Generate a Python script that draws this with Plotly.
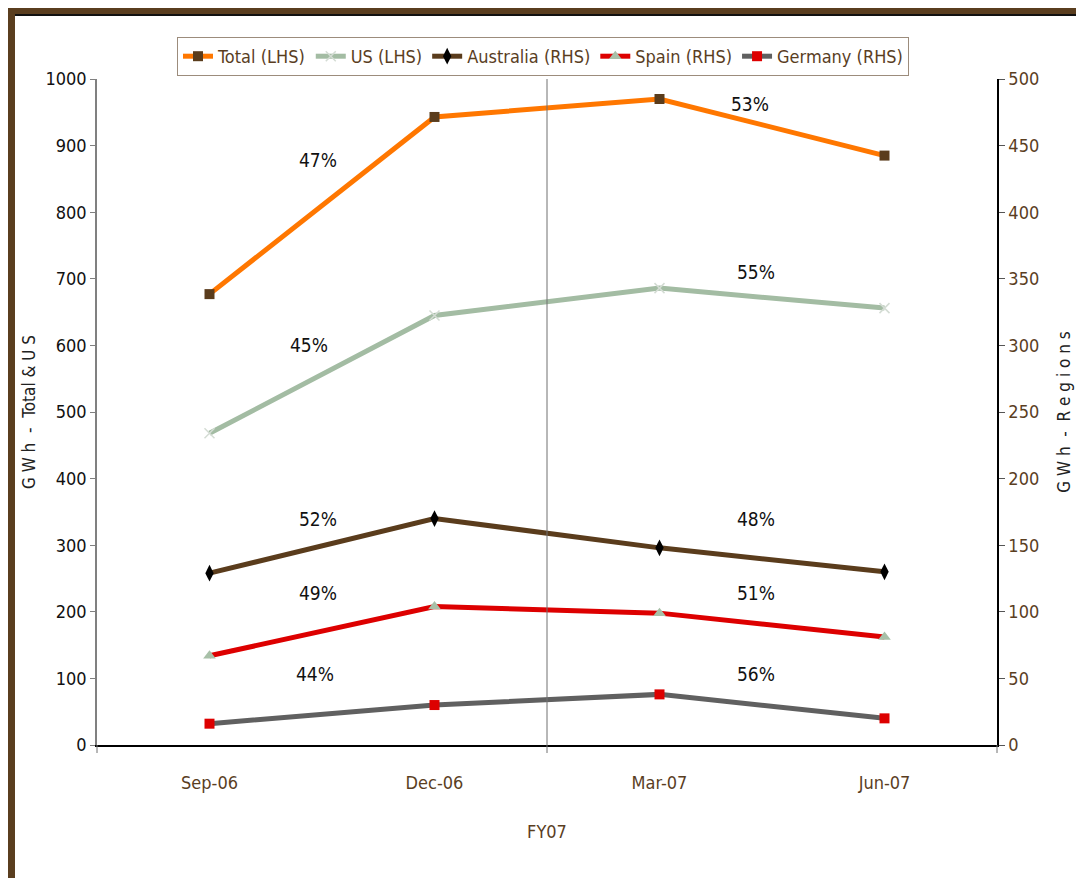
import plotly.graph_objects as go

categories = ["Sep-06", "Dec-06", "Mar-07", "Jun-07"]
total_lhs = [677, 943, 970, 885]
us_lhs = [468, 645, 686, 656]
australia_rhs = [129, 170, 148, 130]
spain_rhs = [67, 104, 99, 81]
germany_rhs = [16, 30, 38, 20]

# percentage annotations: (category position, value, axis, text)
pct_x = [0.48, 2.4, 0.44, 2.43, 0.48, 2.43, 0.48, 2.43, 0.47, 2.43]
pct_y = [878, 962, 600, 710, 170, 170, 114, 114, 53, 53]
pct_ax = ["y", "y", "y", "y", "y2", "y2", "y2", "y2", "y2", "y2"]
pct_text = ["47%", "53%", "45%", "55%", "52%", "48%", "49%", "51%", "44%", "56%"]

FONT = "Liberation Sans Narrow, DejaVu Sans Condensed, Arial Narrow, Liberation Sans, Arial"
BROWN = "#5a3e1f"

# page has an 8px body margin: figure coords = picture coords - 8
W, H = 1076, 870
L, R, T, B = 89, 989, 71, 737


def px2x(px):
    return (px - L) / (R - L)


def py2y(py):
    return (B - py) / (B - T)


fig = go.Figure()

fig.add_trace(go.Scatter(
    x=categories, y=total_lhs, name="Total (LHS)", mode="lines+markers",
    line=dict(color="#ff7700", width=5),
    marker=dict(symbol="square", size=10, color="#5a3c1c"),
))
fig.add_trace(go.Scatter(
    x=categories, y=us_lhs, name="US (LHS)", mode="lines+markers",
    line=dict(color="#a3bca3", width=5),
    marker=dict(symbol="x-thin", size=10, color="#d4dcd4",
                line=dict(color="#d4dcd4", width=1.5)),
))
fig.add_trace(go.Scatter(
    x=categories, y=australia_rhs, name="Australia (RHS)", mode="lines+markers",
    line=dict(color="#5a3c1c", width=5),
    marker=dict(symbol="diamond-tall", size=12, color="#000000"),
    yaxis="y2",
))
fig.add_trace(go.Scatter(
    x=categories, y=spain_rhs, name="Spain (RHS)", mode="lines+markers",
    line=dict(color="#dd0000", width=5),
    marker=dict(symbol="triangle-up", size=11, color="#a8c0a8"),
    yaxis="y2",
))
fig.add_trace(go.Scatter(
    x=categories, y=germany_rhs, name="Germany (RHS)", mode="lines+markers",
    line=dict(color="#606060", width=5),
    marker=dict(symbol="square", size=10, color="#dd0000"),
    yaxis="y2",
))

for x, y, ax, t in zip(pct_x, pct_y, pct_ax, pct_text):
    fig.add_annotation(x=x, y=y, yref=ax, xref="x", text=t, showarrow=False,
                       font=dict(family=FONT, size=19, color="#111111"))

shapes = [
    # vertical divider between Dec-06 and Mar-07
    dict(type="line", xref="x", yref="paper", x0=1.5, x1=1.5, y0=py2y(B + 8), y1=1,
         line=dict(color="#707070", width=1)),
    # outer boundary ticks of x axis
    dict(type="line", xref="paper", yref="paper", x0=0, x1=0, y0=py2y(B + 8), y1=0,
         line=dict(color="#707070", width=1)),
    dict(type="line", xref="paper", yref="paper", x0=1, x1=1, y0=py2y(B + 8), y1=0,
         line=dict(color="#707070", width=1)),
    # frame border (left & top)
    dict(type="rect", xref="paper", yref="paper", x0=px2x(0), x1=px2x(7),
         y0=py2y(H), y1=py2y(0), fillcolor=BROWN, line=dict(width=0)),
    dict(type="rect", xref="paper", yref="paper", x0=px2x(0), x1=px2x(W),
         y0=py2y(6), y1=py2y(0), fillcolor=BROWN, line=dict(width=0)),
    dict(type="rect", xref="paper", yref="paper", x0=px2x(7), x1=px2x(W),
         y0=py2y(8), y1=py2y(6), fillcolor="#111111", line=dict(width=0)),
]

fig.update_layout(
    width=W, height=H,
    margin=dict(l=L, r=W - R, t=T, b=H - B, autoexpand=False),
    paper_bgcolor="white", plot_bgcolor="white",
    font=dict(family=FONT, color=BROWN),
    showlegend=True,
    legend=dict(
        orientation="h", x=px2x(169), y=py2y(29), xanchor="left", yanchor="top",
        bgcolor="white", bordercolor="#9c8c7c", borderwidth=1,
        font=dict(family=FONT, size=18, color=BROWN),
        itemwidth=30, tracegroupgap=0,
    ),
    xaxis=dict(
        type="category", range=[-0.5, 3.5], showgrid=False, automargin=False,
        showline=True, linecolor="#000000", linewidth=2,
        ticks="", ticklabelstandoff=20,
        tickfont=dict(family=FONT, size=18, color=BROWN),
        title=dict(text="FY07", font=dict(family=FONT, size=18, color=BROWN), standoff=34),
        zeroline=False,
    ),
    yaxis=dict(
        range=[0, 1000], dtick=100, showgrid=False, zeroline=False, automargin=False,
        showline=True, linecolor="#808080", linewidth=1.5,
        ticks="outside", ticklen=5, tickcolor="#808080",
        tickfont=dict(family=FONT, size=18, color="#111111"),
        title=dict(text="G W h  -  Total & U S", font=dict(family=FONT, size=17, color="#222222"),
                   standoff=5),
    ),
    yaxis2=dict(
        range=[0, 500], dtick=50, overlaying="y", side="right", showgrid=False,
        zeroline=False, automargin=False, showline=True, linecolor="#000000", linewidth=1.5,
        ticks="outside", ticklen=6, tickcolor="#555555",
        tickfont=dict(family=FONT, size=18, color=BROWN),
        title=dict(text="G W h  -  R e g i o n s", font=dict(family=FONT, size=17, color="#222222"),
                   standoff=20),
    ),
    shapes=shapes,
)

fig.write_html("out.html")
